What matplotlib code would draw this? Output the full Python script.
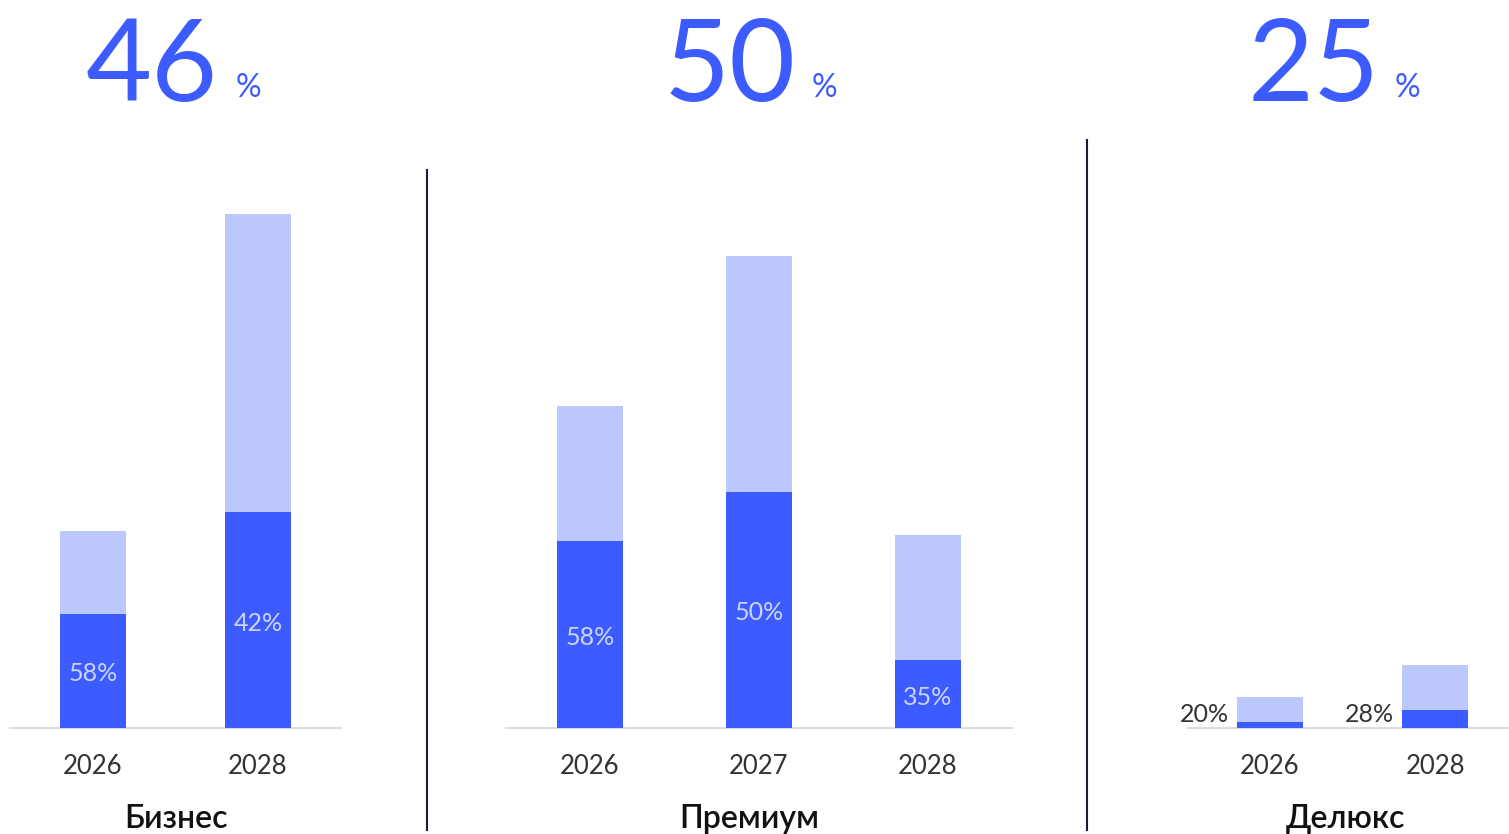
import matplotlib
matplotlib.use("Agg")
import matplotlib.pyplot as plt
from matplotlib.lines import Line2D

# Данные (высота столбца — в единицах общей шкалы)
segments = ["Бизнес", "Премиум", "Делюкс"]
headline = [46, 50, 25]

biz_years = ["2026", "2028"]
biz_total = [197, 514]
biz_share = [58, 42]

prem_years = ["2026", "2027", "2028"]
prem_total = [322, 472, 193]
prem_share = [58, 50, 35]

lux_years = ["2026", "2028"]
lux_total = [31, 63]
lux_share = [20, 28]

DARK = "#3D5CFF"
LIGHT = "#BDC8FF"
INNER = "#CBD4FF"
TEXT = "#333333"
FONT = ["Lato", "Noto Sans", "DejaVu Sans"]

plt.rcParams["font.family"] = FONT

W, H = 1509, 834
fig = plt.figure(figsize=(W / 100, H / 100), dpi=100)


def px_box(x0, x1, top, base=728):
    return [x0 / W, (H - base) / H, (x1 - x0) / W, (base - top) / H]


def panel(box, years, total, share, width, xlim, inside=True):
    ax = fig.add_axes(box)
    xs = list(range(len(years)))
    dark = [t * s / 100 for t, s in zip(total, share)]
    ax.bar(xs, total, width=width, color=LIGHT, zorder=2)
    ax.bar(xs, dark, width=width, color=DARK, zorder=3)
    for x, d, s in zip(xs, dark, share):
        if inside:
            ax.text(x, d / 2 - 3, f"{s}%", ha="center", va="center", color=INNER,
                    fontsize=18, zorder=4)
        else:
            ax.text(x - width / 2 - 0.05, 14, f"{s}%", ha="right", va="center",
                    color=TEXT, fontsize=18, zorder=4)
    ax.set_xlim(*xlim)
    ax.set_ylim(0, 588)
    ax.set_xticks(xs)
    ax.set_xticklabels(years, fontsize=18.5, color=TEXT)
    ax.set_yticks([])
    for side in ("top", "left", "right"):
        ax.spines[side].set_visible(False)
    ax.spines["bottom"].set_color("#dddddd")
    ax.spines["bottom"].set_linewidth(1.5)
    ax.tick_params(axis="x", length=0, pad=19)
    ax.patch.set_alpha(0)
    return ax


panel(px_box(10, 341, 140), biz_years, biz_total, biz_share, 0.4, (-0.503, 1.503))
panel(px_box(506, 1012, 140), prem_years, prem_total, prem_share, 0.39, (-0.497, 2.497))
panel(px_box(1188, 1509, 140), lux_years, lux_total, lux_share, 0.4, (-0.497, 1.448),
      inside=False)

# заголовки-проценты
num_right = [218, 796, 1380]
pct_left = [236, 812, 1395]
for v, xr, xl in zip(headline, num_right, pct_left):
    fig.text(xr / W, (H - 101) / H, str(v), ha="right", va="baseline",
             fontsize=82, color=DARK)
    fig.text(xl / W, (H - 97) / H, "%", ha="left", va="baseline",
             fontsize=23, color=DARK)

# подписи сегментов
seg_x = [176, 749, 1345]
for name, x in zip(segments, seg_x):
    fig.text(x / W, (H - 819) / H, name, ha="center", va="center",
             fontsize=23, fontweight="semibold", color="#111111")

# вертикальные разделители
for x, top in [(427, 170), (1087, 140)]:
    fig.add_artist(Line2D([x / W, x / W], [(H - 830) / H, (H - top) / H],
                          color="#1c1c3a", lw=1.5))

fig.savefig("out.png", dpi=100)
